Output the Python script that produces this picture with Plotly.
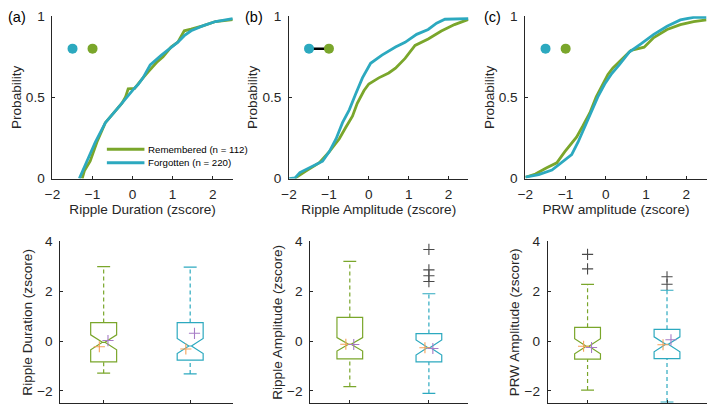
import plotly.graph_objects as go

W, H = 709, 413
GREEN = "#7AA62B"
CYAN = "#2CA9BF"
AXIS = "#262626"
ORANGE = "#F5A25A"
PURPLE = "#A77CC6"
OUTLIER = "#4A4A4A"
FONT = "Liberation Sans, Arial, sans-serif"
TXT = 13.6

# ---------------- data ----------------
series_names = ["Remembered (n = 112)", "Forgotten (n = 220)"]
series_colors = [GREEN, CYAN]
panel_labels = ["(a)", "(b)", "(c)"]
cdf_xtitles = ["Ripple Duration (zscore)", "Ripple Amplitude (zscore)", "PRW amplitude (zscore)"]
box_ytitles = ["Ripple Duration (zscore)", "Ripple Amplitude (zscore)", "PRW Amplitude (zscore)"]
cdf_ytitle = "Probability"
cdf_xticks = [-2, -1, 0, 1, 2]
cdf_yticks = [0, 0.5, 1]
cdf_yticktext = ["0", "0.5", "1"]
box_yticks = [-2, 0, 2, 4]
box_positions = [1, 2]

# (a) ripple duration cumulative distributions
dur_rem_x = [-1.26, -1.2, -1.06, -0.89, -0.68, -0.48, -0.27, -0.18, -0.11, 0.05, 0.14, 0.26, 0.4,
             0.55, 0.62, 0.76, 0.96, 1.13, 1.29, 1.46, 1.75, 2.07, 2.5]
dur_rem_p = [0.0, 0.05, 0.107, 0.225, 0.344, 0.40, 0.463, 0.5, 0.552, 0.555, 0.58, 0.62, 0.66,
             0.70, 0.72, 0.75, 0.81, 0.84, 0.91, 0.92, 0.94, 0.967, 0.978]
dur_for_x = [-1.33, -1.24, -1.14, -0.93, -0.68, -0.48, -0.27, 0.03, 0.14, 0.26, 0.35, 0.43, 0.44,
             0.72, 0.96, 1.13, 1.29, 1.46, 1.75, 2.07, 2.5]
dur_for_p = [0.0, 0.05, 0.107, 0.225, 0.344, 0.40, 0.463, 0.552, 0.58, 0.62, 0.66, 0.69, 0.70,
             0.76, 0.81, 0.84, 0.88, 0.91, 0.94, 0.967, 0.985]

# (b) ripple amplitude cumulative distributions
amp_rem_x = [-1.85, -1.82, -1.57, -1.24, -0.99, -0.74, -0.58, -0.41, -0.29, -0.12, 0.0, 0.25, 0.5,
             0.67, 0.91, 1.16, 1.49, 1.82, 2.15, 2.44, 2.5]
amp_rem_p = [0.0, 0.008, 0.047, 0.097, 0.166, 0.245, 0.314, 0.384, 0.463, 0.542, 0.582, 0.62, 0.65,
             0.68, 0.74, 0.82, 0.859, 0.908, 0.948, 0.977, 0.98]
amp_for_x = [-2.0, -1.85, -1.73, -1.49, -1.16, -0.99, -0.82, -0.66, -0.49, -0.33, -0.16, 0.045, 0.33,
             0.67, 0.91, 1.2, 1.49, 1.7, 1.91, 2.5]
amp_for_p = [0.0, 0.004, 0.037, 0.067, 0.107, 0.166, 0.245, 0.344, 0.423, 0.52, 0.62, 0.71, 0.76,
             0.81, 0.839, 0.888, 0.918, 0.957, 0.981, 0.985]

# (c) PRW amplitude cumulative distributions
prw_rem_x = [-2.0, -1.75, -1.47, -1.22, -1.02, -0.85, -0.73, -0.57, -0.40, -0.24, -0.12, 0.05, 0.17,
             0.38, 0.62, 0.95, 1.19, 1.52, 1.85, 2.18, 2.5]
prw_rem_p = [0.008, 0.028, 0.067, 0.097, 0.166, 0.215, 0.255, 0.325, 0.404, 0.503, 0.562, 0.641, 0.68,
             0.73, 0.789, 0.809, 0.868, 0.918, 0.948, 0.967, 0.977]
prw_for_x = [-2.0, -1.67, -1.34, -1.10, -0.85, -0.69, -0.53, -0.36, -0.20, -0.03, 0.13, 0.33, 0.58,
             0.87, 1.19, 1.52, 1.85, 2.18, 2.5]
prw_for_p = [0.008, 0.024, 0.052, 0.097, 0.147, 0.225, 0.315, 0.404, 0.503, 0.582, 0.641, 0.70, 0.779,
             0.829, 0.888, 0.938, 0.977, 0.993, 0.993]

# significance markers (Forgotten, Remembered)
sig_x = [-1.5, -1.0]
sig_y = 0.8
sig_colors = [CYAN, GREEN]
significant = [False, True, False]

# box plot summaries [Remembered, Forgotten]
dur_lower = [-1.29, -1.32]
dur_q1 = [-0.84, -0.77]
dur_med = [-0.05, -0.20]
dur_q3 = [0.74, 0.74]
dur_upper = [2.99, 2.97]
dur_notch = [0.30, 0.30]
dur_mark_orange = [-0.23, -0.32]
dur_mark_purple = [0.02, 0.31]
dur_outliers = [[], []]

amp_lower = [-1.83, -2.10]
amp_q1 = [-0.72, -0.84]
amp_med = [-0.13, -0.26]
amp_q3 = [0.95, 0.30]
amp_upper = [3.20, 1.90]
amp_notch = [0.27, 0.30]
amp_mark_orange = [-0.13, -0.27]
amp_mark_purple = [-0.14, -0.30]
amp_outliers = [[], [2.39, 2.62, 2.86, 3.68]]

prw_lower = [-1.97, -2.45]
prw_q1 = [-0.73, -0.71]
prw_med = [-0.21, -0.13]
prw_q3 = [0.55, 0.47]
prw_upper = [2.28, 2.04]
prw_notch = [0.30, 0.30]
prw_mark_orange = [-0.21, -0.15]
prw_mark_purple = [-0.26, 0.05]
prw_outliers = [[2.90, 3.48], [2.28, 2.58]]

# ---------------- layout geometry (pixels) ----------------
top_px = [(45.0, 227.3), (284.3, 465.7), (523.3, 706.5)]
top_py = (9.5, 178.0)
bot_px = [(53.0, 228.0), (305.7, 465.7), (546.0, 706.7)]
bot_py = (243.3, 411.2)
box_w = [0.30, 0.325, 0.325]


def dx(px):
    return px / W


def dy(py):
    return 1 - py / H


fig = go.Figure()

cdf_sets = [
    [(dur_rem_x, dur_rem_p), (dur_for_x, dur_for_p)],
    [(amp_rem_x, amp_rem_p), (amp_for_x, amp_for_p)],
    [(prw_rem_x, prw_rem_p), (prw_for_x, prw_for_p)],
]

for i, sets in enumerate(cdf_sets):
    xa = "x" if i == 0 else f"x{i + 1}"
    ya = "y" if i == 0 else f"y{i + 1}"
    for (xs, ps), name, col in zip(sets, series_names, series_colors):
        fig.add_trace(go.Scatter(x=xs, y=ps, mode="lines", name=name, showlegend=False,
                                 line=dict(color=col, width=2.8), xaxis=xa, yaxis=ya))
    if significant[i]:
        fig.add_trace(go.Scatter(x=sig_x, y=[sig_y, sig_y], mode="lines", showlegend=False,
                                 line=dict(color="black", width=2.5), xaxis=xa, yaxis=ya))
    fig.add_trace(go.Scatter(x=sig_x, y=[sig_y, sig_y], mode="markers", showlegend=False,
                             marker=dict(color=sig_colors, size=10), xaxis=xa, yaxis=ya))

box_sets = [
    (dur_lower, dur_q1, dur_med, dur_q3, dur_upper, dur_notch, dur_mark_orange, dur_mark_purple, dur_outliers),
    (amp_lower, amp_q1, amp_med, amp_q3, amp_upper, amp_notch, amp_mark_orange, amp_mark_purple, amp_outliers),
    (prw_lower, prw_q1, prw_med, prw_q3, prw_upper, prw_notch, prw_mark_orange, prw_mark_purple, prw_outliers),
]

for i, (lo, q1, med, q3, up, nspan, mo, mp, outs) in enumerate(box_sets):
    xa = f"x{i + 4}"
    ya = f"y{i + 4}"
    bw = box_w[i]
    cap = bw * 0.5
    for g in range(2):
        c = box_positions[g]
        col = series_colors[g]
        for a, b in ((q3[g], up[g]), (lo[g], q1[g])):
            fig.add_trace(go.Scatter(x=[c, c], y=[a, b], mode="lines", showlegend=False,
                                     line=dict(color=col, width=1.2, dash="4px,3px"),
                                     xaxis=xa, yaxis=ya))
        for v in (up[g], lo[g]):
            fig.add_trace(go.Scatter(x=[c - cap / 2, c + cap / 2], y=[v, v], mode="lines",
                                     showlegend=False, line=dict(color=col, width=1.2),
                                     xaxis=xa, yaxis=ya))
        fig.add_trace(go.Box(x=[c], q1=[q1[g]], median=[med[g]], q3=[q3[g]],
                             lowerfence=[q1[g]], upperfence=[q3[g]], notchspan=[nspan[g]],
                             notched=True, notchwidth=0.45, width=bw, whiskerwidth=0,
                             boxpoints=False, fillcolor="rgba(0,0,0,0)",
                             line=dict(color=col, width=1.2), showlegend=False,
                             xaxis=xa, yaxis=ya))
        if outs[g]:
            fig.add_trace(go.Scatter(x=[c] * len(outs[g]), y=outs[g], mode="markers", showlegend=False,
                                     marker=dict(symbol="cross-thin", size=8, color=OUTLIER,
                                                 line=dict(color=OUTLIER, width=1.1)),
                                     xaxis=xa, yaxis=ya))
        for val, mcol, off in ((mo[g], ORANGE, -0.05), (mp[g], PURPLE, 0.05)):
            fig.add_trace(go.Scatter(x=[c + off], y=[val], mode="markers", showlegend=False,
                                     marker=dict(symbol="cross-thin", size=8, color=mcol,
                                                 line=dict(color=mcol, width=1.1)),
                                     xaxis=xa, yaxis=ya))

axis_common = dict(showline=True, linecolor=AXIS, linewidth=1, ticks="inside", ticklen=3,
                   tickcolor=AXIS, showgrid=False, zeroline=False,
                   tickfont=dict(family=FONT, size=TXT, color=AXIS))
layout = dict(width=W, height=H, autosize=False, margin=dict(l=0, r=0, t=0, b=0),
              plot_bgcolor="white", paper_bgcolor="white", showlegend=False,
              font=dict(family=FONT, color=AXIS))

for i in range(3):
    xk = "xaxis" if i == 0 else f"xaxis{i + 1}"
    yk = "yaxis" if i == 0 else f"yaxis{i + 1}"
    ya_name = "y" if i == 0 else f"y{i + 1}"
    xa_name = "x" if i == 0 else f"x{i + 1}"
    layout[xk] = dict(axis_common, domain=[dx(top_px[i][0]), dx(top_px[i][1])], range=[-2, 2.5],
                      tickvals=cdf_xticks, anchor=ya_name, ticklabelstandoff=3,
                      title=dict(text=cdf_xtitles[i], font=dict(family=FONT, size=TXT, color=AXIS),
                                 standoff=1))
    layout[yk] = dict(axis_common, domain=[dy(top_py[1]), dy(top_py[0])], range=[0, 1],
                      tickvals=cdf_yticks, ticktext=cdf_yticktext, anchor=xa_name, ticklabelstandoff=4,
                      title=dict(text=cdf_ytitle, font=dict(family=FONT, size=TXT, color=AXIS),
                                 standoff=1))
    bx = f"xaxis{i + 4}"
    by = f"yaxis{i + 4}"
    layout[bx] = dict(axis_common, domain=[dx(bot_px[i][0]), dx(bot_px[i][1])], range=[0.5, 2.5],
                      tickvals=box_positions, showticklabels=False, anchor=f"y{i + 4}")
    layout[by] = dict(axis_common, domain=[dy(bot_py[1]), dy(bot_py[0])], range=[-2.5, 4],
                      tickvals=box_yticks, anchor=f"x{i + 4}", ticklabelstandoff=4,
                      title=dict(text=box_ytitles[i], font=dict(family=FONT, size=TXT, color=AXIS),
                                 standoff=1))

fig.update_layout(**layout)

label_px = [9.5, 249.0, 490.5]
for lab, px in zip(panel_labels, label_px):
    fig.add_annotation(text=lab, x=dx(px), y=dy(10), xref="paper", yref="paper",
                       showarrow=False, font=dict(family=FONT, size=14.5, color="black"),
                       xanchor="center", yanchor="middle")

leg_rows = [147.5, 161.7]
for name, col, py in zip(series_names, series_colors, leg_rows):
    fig.add_shape(type="line", xref="paper", yref="paper", x0=dx(100), x1=dx(138), y0=dy(py), y1=dy(py),
                  line=dict(color=col, width=3))
    fig.add_annotation(text=name, x=dx(140), y=dy(py), xref="paper", yref="paper", showarrow=False,
                       xanchor="left", yanchor="middle", font=dict(family=FONT, size=9.7, color="black"))

fig.write_html("out.html", config={"displayModeBar": False},
               post_script="document.body.style.margin='0';document.body.style.overflow='hidden';")
